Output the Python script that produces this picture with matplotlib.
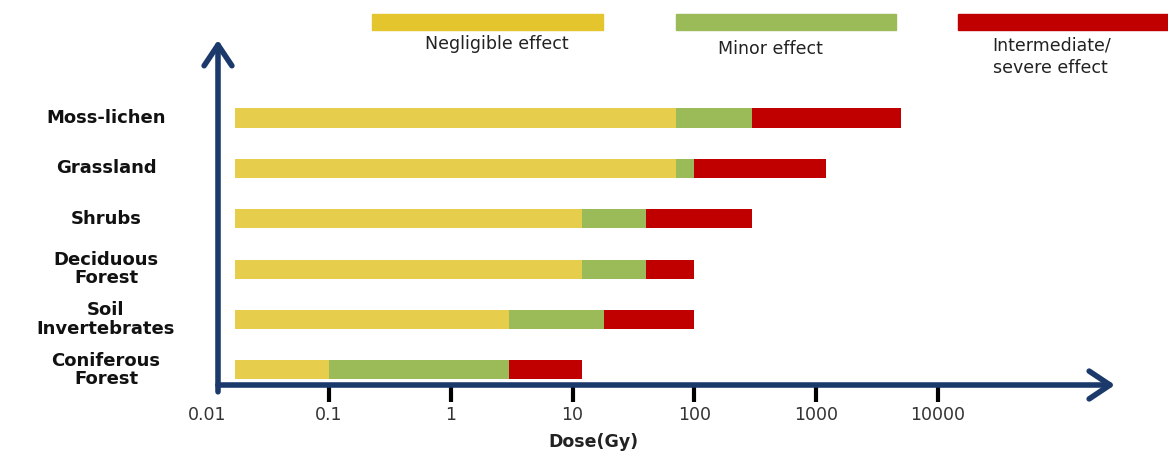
import matplotlib
matplotlib.use("Agg")
from matplotlib import pyplot as plt
from matplotlib import transforms
from matplotlib.patches import Rectangle
import numpy as np

# ecosystems, bottom to top
ecosystems = ["Coniferous\nForest", "Soil\nInvertebrates", "Deciduous\nForest",
              "Shrubs", "Grassland", "Moss-lichen"]
dose_start = 0.017                                  # Gy, where every bar begins
negligible_to = [0.1, 3, 12, 12, 70, 70]            # Gy
minor_to = [3, 18, 40, 40, 100, 300]                # Gy
severe_to = [12, 100, 100, 300, 1200, 5000]         # Gy

tick_vals = [0.1, 1, 10, 100, 1000, 10000]
tick_text = ["0.1", "1", "10", "100", "1000", "10000"]

effect_labels = ["Negligible effect", "Minor effect", "Intermediate/\nsevere effect"]
bar_colors = ["#E6CD4B", "#9BBB59", "#C00000"]
legend_colors = ["#E4C52E", "#9BBB59", "#C00000"]
navy = "#1B3A6B"

plt.rcParams['font.family'] = ['DejaVu Sans']

W, H = 1168, 455
fig = plt.figure(figsize=(W / 100, H / 100), dpi=100)
ax = fig.add_axes([218 / W, (H - 385) / H, 897 / W, 340 / H])

y = np.arange(len(ecosystems))
lefts = np.full(len(ecosystems), dose_start)
for ends, col in zip([negligible_to, minor_to, severe_to], bar_colors):
    ends = np.array(ends, dtype=float)
    ax.barh(y, ends - lefts, left=lefts, height=0.38, color=col, zorder=2)
    lefts = ends

ax.set_xscale("log")
ax.set_xlim(0.01227, 2.84e5)
ax.set_ylim(-0.3, 6.45)
for s in ax.spines.values():
    s.set_visible(False)
ax.set_yticks([])
ax.set_xticks(tick_vals, tick_text)
ax.minorticks_off()
# tick sizes are in points (1 pt = 1.39 px at 100 dpi)
ax.tick_params(axis="x", length=12.5, width=3, color="black", pad=2.5,
               labelsize=12.5, labelcolor="#333333")
# the 0.01 label has no tick mark
ax.text(0.01, -21 / 340, "0.01", transform=ax.get_xaxis_transform(),
        ha="center", va="top", fontsize=12.5, color="#333333", clip_on=False)

fig.text(593 / W, 1 - 442 / H, "Dose(Gy)", ha="center", va="center",
         fontsize=12.5, fontweight="bold", color="#222222")

# axis arrows
arrow = dict(arrowstyle="->,head_length=1.5,head_width=1.0", lw=4, color=navy,
             shrinkA=0, shrinkB=0)
ax.annotate("", xy=(1, 0), xytext=(0, 0), xycoords="axes fraction",
            arrowprops=arrow, annotation_clip=False, zorder=5)
ax.annotate("", xy=(0, 1.015), xytext=(0, -0.02), xycoords="axes fraction",
            arrowprops=arrow, annotation_clip=False, zorder=5)

# category labels
trans = transforms.blended_transform_factory(fig.transFigure, ax.transData)
for yi, name in zip(y, ecosystems):
    ax.text(106 / W, yi, name, transform=trans, ha="center", va="center",
            fontsize=13, fontweight="bold", color="#111111",
            multialignment="center", linespacing=1.05)

# legend strip at the top
leg_x = [372, 676, 958]
leg_w = [231, 220, 215]
text_x = [497, 770, 1052]
text_y = [44, 49, 57]
for lx, lw_, tx, ty, col, lab in zip(leg_x, leg_w, text_x, text_y, legend_colors, effect_labels):
    fig.add_artist(Rectangle((lx / W, 1 - 30 / H), lw_ / W, 16 / H,
                             transform=fig.transFigure, color=col))
    fig.text(tx / W, 1 - ty / H, lab, ha="center", va="center", fontsize=12.5,
             color="#222222", multialignment="left", linespacing=1.3)

fig.savefig("out.png", dpi=100)
